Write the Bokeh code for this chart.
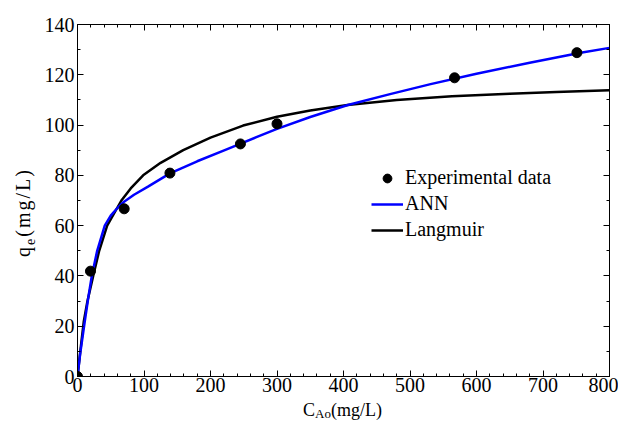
from bokeh.plotting import figure
from bokeh.models import (Range1d, LinearAxis, SingleIntervalTicker, Div,
                          CustomJSTickFormatter, ColumnDataSource)
from bokeh.layouts import row, column
from bokeh.embed import file_html
from bokeh.resources import INLINE

# ---- data ----
exp_c = [0, 19.5, 70.2, 139, 245, 300, 567, 751]
exp_q = [0, 41.9, 66.7, 80.9, 92.5, 100.5, 118.8, 128.8]

ann_c = [0, 4, 11, 16, 21.5, 29.6, 41, 50, 60, 70, 85, 106, 139, 180, 221.5, 269,
         300, 350, 406.5, 470, 531, 600, 680, 754.5, 800]
ann_q = [0, 9, 22, 31, 40, 50, 60, 64, 67, 69.5, 72.3, 75.5, 80.8, 85.6, 90, 95.2,
         98.5, 103.2, 108, 112.3, 116.3, 120.4, 124.8, 128.7, 130.7]

lang_c = [0, 4, 9.5, 15, 23.6, 32.6, 44.6, 66, 80, 98.7, 125, 159, 200, 249, 300,
          350, 406, 480, 563, 650, 720, 800]
lang_q = [0, 9.5, 22, 30, 40, 50, 60, 70, 74.8, 80, 85, 90, 95, 99.8, 103.3,
          105.8, 108, 110, 111.5, 112.5, 113.2, 113.8]

x_range = (0, 800)
y_range = (0, 140)
x_tick_step, x_minor = 100, 5
y_tick_step, y_minor = 20, 2

FONT = "Liberation Serif"

p = figure(width=582, height=400, output_backend="svg", toolbar_location=None,
           x_range=Range1d(*x_range), y_range=Range1d(*y_range),
           min_border_left=41, min_border_right=9, min_border_top=24,
           min_border_bottom=24, background_fill_color="white",
           border_fill_color="white")
p.outline_line_color = None
p.grid.visible = False


def style_axis(ax, show_labels=True):
    ax.axis_line_color = "black"
    ax.axis_line_width = 1
    ax.major_tick_line_color = "black"
    ax.minor_tick_line_color = "black"
    ax.major_tick_in = 6
    ax.major_tick_out = 0
    ax.minor_tick_in = 3
    ax.minor_tick_out = 0
    if show_labels:
        ax.major_label_text_font = FONT
        ax.major_label_text_font_size = "20px"
        ax.major_label_text_color = "black"
    else:
        ax.formatter = CustomJSTickFormatter(code="return ''")
        ax.major_label_text_font_size = "1px"
        ax.major_label_standoff = 0


p.xaxis.ticker = SingleIntervalTicker(interval=x_tick_step, num_minor_ticks=x_minor)
p.yaxis.ticker = SingleIntervalTicker(interval=y_tick_step, num_minor_ticks=y_minor)
style_axis(p.xaxis[0])
style_axis(p.yaxis[0])
p.xaxis.major_label_standoff = 1
p.yaxis.major_label_standoff = 3

top = LinearAxis(ticker=SingleIntervalTicker(interval=x_tick_step, num_minor_ticks=x_minor))
right = LinearAxis(ticker=SingleIntervalTicker(interval=y_tick_step, num_minor_ticks=y_minor))
style_axis(top, False)
style_axis(right, False)
p.add_layout(top, "above")
p.add_layout(right, "right")

# ---- glyphs ----
src_exp = ColumnDataSource(dict(x=exp_c, y=exp_q))
src_ann = ColumnDataSource(dict(x=ann_c, y=ann_q))
src_lang = ColumnDataSource(dict(x=lang_c, y=lang_q))

p.line("x", "y", source=src_lang, line_color="black", line_width=2.5,
       legend_label="Langmuir", line_join="round")
p.line("x", "y", source=src_ann, line_color="#0000ff", line_width=2.5,
       legend_label="ANN", line_join="round")
p.scatter("x", "y", source=src_exp, size=10, fill_color="black",
          line_color="black", legend_label="Experimental data")

leg = p.legend[0]
leg.items = [leg.items[2], leg.items[1], leg.items[0]]
leg.location = (294, 135)
leg.background_fill_alpha = 0
leg.border_line_color = None
leg.padding = 0
leg.margin = 0
leg.spacing = 3
leg.glyph_width = 32
leg.glyph_height = 22
leg.label_standoff = 2
leg.label_text_font = FONT
leg.label_text_font_size = "20px"
leg.label_text_color = "black"

# ---- axis titles with subscripts (HTML) ----
y_title_html = (
    '<div style="position:relative;width:36px;height:421px;margin:0;padding:0;">'
    '<div style="position:absolute;left:13px;top:257px;transform:rotate(-90deg);'
    'transform-origin:left top;white-space:nowrap;font-family:\'Liberation Serif\';'
    'font-size:20px;line-height:20px;letter-spacing:2px;color:black;">'
    'q<sub style="font-size:14px;vertical-align:-5px;line-height:0;">e</sub>(mg/L)'
    '</div></div>'
)
x_title_html = (
    '<div style="position:relative;width:582px;height:21px;margin:0;padding:0;">'
    '<div style="position:absolute;left:267px;top:0px;white-space:nowrap;'
    'font-family:\'Liberation Serif\';font-size:18px;line-height:20px;color:black;">'
    'C<sub style="font-size:13px;vertical-align:-2px;line-height:0;">Ao</sub>(mg/L)'
    '</div></div>'
)
ydiv = Div(text=y_title_html, width=36, height=421, margin=0)
xdiv = Div(text=x_title_html, width=582, height=21, margin=0)

layout = row(ydiv, column(p, xdiv, spacing=0), spacing=0)

open("out.html", "w").write(file_html(layout, INLINE))
